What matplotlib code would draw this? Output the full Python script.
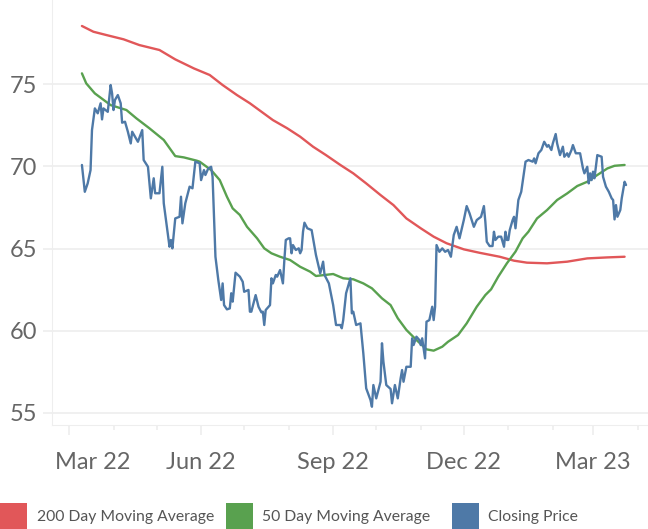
import matplotlib
matplotlib.use('Agg')
import matplotlib.pyplot as plt
import matplotlib.dates as mdates
import matplotlib.transforms as mtransforms
from matplotlib.patches import Rectangle
import pandas as pd

base_date = pd.Timestamp('2022-03-01')

# days after 2022-03-01 and values
close_day = [9, 11, 13, 15, 16, 18, 20, 22, 23, 24, 27, 29, 30, 31, 32, 34, 36, 37, 39, 41,
             43, 44, 46, 48, 51, 52, 55, 57, 59, 60, 63, 65, 66, 70, 71, 72, 74, 77, 78, 79,
             81, 84, 86, 88, 91, 92, 94, 95, 97, 99, 100, 102, 104, 106, 107, 108, 110, 112, 113, 114,
             116, 119, 121, 122, 125, 126, 127, 130, 132, 134, 135, 136, 137, 140, 141, 142, 144, 145, 147, 149,
             150, 151, 153, 154, 155, 156, 158, 160, 161, 162, 163, 164, 166, 169, 170, 172, 175, 177, 178, 181,
             184, 186, 189, 190, 191, 193, 196, 197, 198, 200, 203, 205, 207, 210, 211, 212, 214, 217, 218, 219,
             221, 224, 225, 227, 229, 231, 232, 233, 235, 238, 239, 240, 242, 244, 245, 246, 248, 249, 251, 253,
             254, 255, 256, 258, 260, 262, 264, 266, 268, 270, 272, 275, 277, 279, 282, 284, 287, 289, 290, 291,
             293, 295, 296, 297, 299, 301, 303, 304, 305, 306, 307, 309, 310, 311, 313, 315, 318, 320, 323, 324,
             325, 327, 329, 331, 333, 334, 336, 337, 339, 340, 342, 344, 345, 347, 348, 350, 351, 353, 356, 358,
             359, 361, 362, 363, 364, 365, 366, 368, 371, 372, 374, 376, 378, 379, 380, 381, 382, 384, 385, 387,
             388]
close_val = [70.08, 68.45, 68.96, 69.77, 72.20, 73.52, 73.22, 73.83, 72.85, 73.52, 73.31, 74.94, 74.43, 73.42, 74.03, 74.33, 73.83, 72.65, 72.71, 72.10,
             71.39, 72.10, 71.80, 71.49, 72.20, 70.38, 69.97, 68.05, 69.27, 68.36, 68.36, 69.97, 67.75, 65.11, 65.52, 65.01, 66.83, 66.93, 68.15, 66.53,
             67.75, 68.76, 68.66, 70.28, 70.18, 69.16, 69.77, 69.47, 69.87, 69.97, 69.36, 64.50, 63.08, 61.87, 62.88, 61.56, 61.30, 61.36, 62.28, 61.77,
             63.53, 63.29, 62.98, 62.37, 62.48, 61.16, 61.16, 62.17, 61.46, 61.12, 61.16, 60.35, 61.26, 61.56, 63.19, 62.88, 63.39, 63.29, 63.69, 62.88,
             64.30, 65.52, 65.62, 65.62, 64.71, 65.21, 64.91, 65.01, 64.71, 64.91, 66.02, 66.57, 66.23, 66.12, 65.62, 64.61, 63.49, 64.20, 63.39, 62.88,
             61.56, 60.35, 60.35, 60.15, 60.65, 62.28, 63.19, 61.06, 61.16, 60.35, 60.45, 58.63, 56.50, 55.79, 55.38, 56.70, 55.89, 56.90, 59.24, 58.12,
             56.70, 56.46, 55.59, 56.70, 55.89, 57.11, 57.61, 56.90, 57.81, 57.81, 59.54, 59.13, 59.64, 59.44, 59.13, 59.54, 58.32, 60.55, 60.65, 61.46,
             60.65, 61.46, 65.21, 64.80, 65.01, 64.80, 64.91, 64.50, 65.82, 66.32, 65.62, 66.73, 67.58, 67.14, 66.32, 66.73, 66.93, 67.58, 66.63, 65.41,
             65.15, 65.15, 66.02, 65.52, 65.72, 65.72, 65.11, 66.02, 65.52, 65.52, 66.12, 66.73, 66.93, 66.23, 67.95, 68.45, 70.28, 70.38, 70.28, 70.48,
             70.18, 70.79, 70.99, 71.49, 71.19, 71.29, 70.99, 71.39, 71.96, 71.39, 70.68, 71.19, 70.58, 70.79, 70.58, 70.99, 71.29, 70.79, 70.79, 69.87,
             69.57, 69.97, 68.96, 69.57, 69.16, 69.67, 69.27, 70.68, 70.58, 69.36, 68.76, 68.45, 68.05, 67.95, 66.77, 67.64, 66.93, 67.34, 68.05, 69.06,
             68.86]

ma50_day = [9, 12, 18, 29, 40, 47, 56, 66, 74, 80, 89, 91, 99, 105, 110, 114, 119, 124, 131, 136,
            141, 147, 154, 161, 168, 172, 178, 184, 191, 198, 205, 211, 218, 224, 229, 235, 242, 249, 254, 260,
            264, 271, 277, 284, 290, 294, 299, 305, 311, 316, 320, 326, 333, 340, 347, 354, 361, 368, 375, 380,
            387]
ma50_val = [75.65, 75.04, 74.43, 73.72, 73.42, 72.91, 72.31, 71.60, 70.62, 70.54, 70.34, 70.28, 69.77, 69.16, 68.15, 67.44, 67.04, 66.32, 65.62, 65.01,
            64.71, 64.50, 64.30, 63.89, 63.59, 63.33, 63.39, 63.45, 63.19, 63.13, 62.88, 62.58, 61.97, 61.56, 60.76, 60.05, 59.44, 58.87, 58.79, 59.03,
            59.33, 59.74, 60.45, 61.46, 62.17, 62.52, 63.29, 64.10, 64.81, 65.62, 66.02, 66.83, 67.34, 67.95, 68.35, 68.80, 69.06, 69.47, 69.87, 70.03,
            70.08]

ma200_day = [9, 17, 26, 38, 49, 63, 74, 87, 98, 107, 117, 126, 142, 152, 161, 170, 179, 189, 198, 207,
             217, 226, 235, 245, 254, 263, 275, 286, 300, 310, 319, 333, 347, 361, 375, 387]
ma200_val = [78.53, 78.18, 77.98, 77.72, 77.37, 77.07, 76.50, 75.95, 75.55, 74.94, 74.33, 73.83, 72.81, 72.31, 71.80, 71.19, 70.68, 70.08, 69.57, 68.96,
             68.25, 67.64, 66.83, 66.23, 65.72, 65.32, 64.95, 64.74, 64.50, 64.26, 64.14, 64.10, 64.20, 64.40, 64.46, 64.50]

series_names = ['200 Day Moving Average', '50 Day Moving Average', 'Closing Price']
series_colors = ['#e15759', '#59a14f', '#4e79a7']
y_ticks = [55, 60, 65, 70, 75]

plt.rcParams['font.family'] = ['Lato', 'DejaVu Sans']


def to_dates(days):
    return base_date + pd.to_timedelta(days, unit='D')


W, H = 648, 529
fig = plt.figure(figsize=(W / 100, H / 100), dpi=100)
ax = fig.add_axes([52 / W, 104 / H, 596 / W, 425 / H])

series = [(ma200_day, ma200_val), (ma50_day, ma50_val), (close_day, close_val)]
for (d, v), c in zip(series, series_colors):
    ax.plot(to_dates(d), v, color=c, lw=1.7, solid_joinstyle='round', solid_capstyle='round')

ax.set_xlim(base_date + pd.Timedelta(days=-11.85), base_date + pd.Timedelta(days=403.3))
ax.set_ylim(54.27, 80.11)

grid_c = '#eeeeee'
ax.set_yticks(y_ticks)
ax.yaxis.grid(True, color=grid_c, lw=1.2)
ax.set_axisbelow(True)
for s in ['top', 'right']:
    ax.spines[s].set_visible(False)
ax.spines['left'].set_color(grid_c)
ax.spines['bottom'].set_color(grid_c)

ax.tick_params(axis='y', length=6.5, width=1.2, color=grid_c, pad=4,
               labelsize=17, labelcolor='#666666')
ax.xaxis.set_major_locator(mdates.MonthLocator(bymonth=[3, 6, 9, 12]))
ax.xaxis.set_minor_locator(mdates.MonthLocator())
ax.xaxis.set_major_formatter(mdates.DateFormatter('%b %y'))
ax.tick_params(axis='x', which='major', length=7.2, width=1.2, color=grid_c, pad=12,
               labelsize=17, labelcolor='#666666')
ax.tick_params(axis='x', which='minor', length=3.6, width=1.2, color=grid_c)

fig.canvas.draw()
labels = ax.get_xticklabels()
if labels:
    first = labels[0]
    first.set_transform(first.get_transform() + mtransforms.ScaledTranslation(24 / 100, 0, fig.dpi_scale_trans))

# legend
leg_items = [(0, 37), (226, 262), (452, 488)]
for (sx, tx), name, c in zip(leg_items, series_names, series_colors):
    fig.patches.append(Rectangle((sx / W, 0), 27 / W, 26 / H, transform=fig.transFigure,
                                 facecolor=c, edgecolor='none'))
    fig.text(tx / W, 12 / H, name, fontsize=11.3, color='#555555', va='center', ha='left')

fig.savefig('out.png', dpi=100)
